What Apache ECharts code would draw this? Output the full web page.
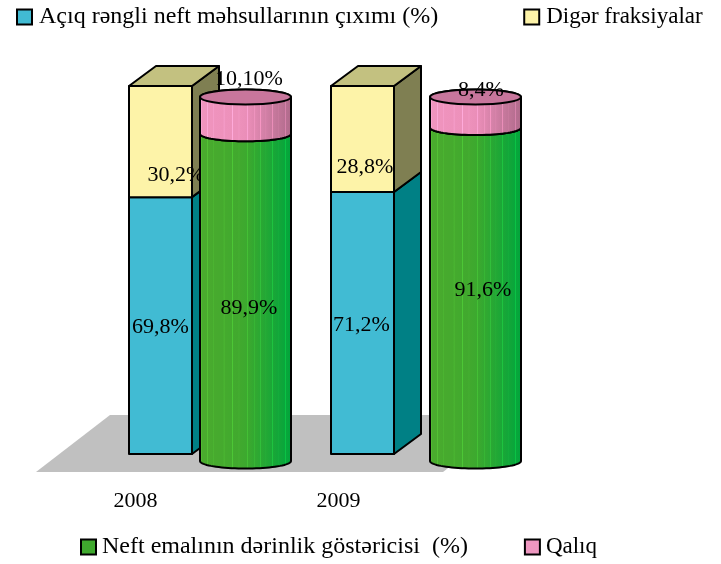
<!DOCTYPE html>
<html><head><meta charset="utf-8">
<style>html,body{margin:0;padding:0;background:#fff}#c{width:721px;height:564px}</style>
<script src="https://cdn.jsdelivr.net/npm/echarts@6/dist/echarts.min.js"></script>
</head><body><div id="c"></div>
<script>
const years = ['2008', '2009'];
const lightOutput = [69.8, 71.2];
const otherFractions = [30.2, 28.8];
const refiningDepth = [89.9, 91.6];
const residue = [10.1, 8.4];
const lightLabels = ['69,8%', '71,2%'];
const otherLabels = ['30,2%', '28,8%'];
const depthLabels = ['89,9%', '91,6%'];
const residueLabels = ['10,10%', '8,4%'];
const names = ['Açıq rəngli neft məhsullarının çıxımı (%)', 'Digər fraksiyalar', 'Neft emalının dərinlik göstəricisi  (%)', 'Qalıq'];

const FONT = '"Liberation Serif","Times New Roman",serif';
const DX = 27, DY = -20, BOX_W = 63, CYL_W = 91, RY = 7.5;
const streaks = [.03,.09,.16,.26,.27,.36,.43,.52,.6,.66,.72,.79,.85,.93];

function cylFill(cols) {
  const stops = [];
  const at = t => echarts.color.lerp(t, cols);
  stops.push({offset: 0, color: at(0)});
  streaks.forEach(p => {
    stops.push({offset: p - .006, color: at(p)});
    stops.push({offset: p, color: echarts.color.lift(at(p), -0.18)});
    stops.push({offset: p + .006, color: at(p)});
  });
  stops.push({offset: 1, color: at(1)});
  return new echarts.graphic.LinearGradient(0, 0, 1, 0, stops);
}
function seg(style) { return Object.assign({stroke: '#000', lineWidth: 2, lineJoin: 'round'}, style); }

function boxRender(front, side, nudges, labels, withTop, topFill) {
  return (params, api) => {
    const i = api.value(0);
    const a = api.coord([i, api.value(1)]);
    const b = api.coord([i, api.value(2)]);
    const l = a[0] - BOX_W / 2, r = a[0] + BOX_W / 2;
    const children = [
      {type: 'polygon', shape: {points: [[l, a[1]], [r, a[1]], [r, b[1]], [l, b[1]]]}, style: seg({fill: front})},
      {type: 'polygon', shape: {points: [[r, a[1]], [r + DX, a[1] + DY], [r + DX, b[1] + DY], [r, b[1]]]}, style: seg({fill: side})}
    ];
    if (withTop) children.push({type: 'polygon', shape: {points: [[l, b[1]], [r, b[1]], [r + DX, b[1] + DY], [l + DX, b[1] + DY]]}, style: seg({fill: topFill})});
    children.push({type: 'text', style: {text: labels[i], x: a[0] + nudges[i][0], y: (a[1] + b[1]) / 2 + nudges[i][1], font: '22px ' + FONT, fill: '#000', align: 'center', verticalAlign: 'middle'}, z2: 5});
    return {type: 'group', children};
  };
}

function arc(cx, cy, rx, ry, from, to) {
  const pts = [];
  for (let k = 0; k <= 40; k++) {
    const t = from + (to - from) * k / 40;
    pts.push([cx + rx * Math.cos(t), cy + ry * Math.sin(t)]);
  }
  return pts;
}
function cylRender(cols, nudges, labels, withTop, topFill) {
  return (params, api) => {
    const i = api.value(0);
    const a = api.coord([i, api.value(1)]);
    const b = api.coord([i, api.value(2)]);
    const cx = a[0], rx = CYL_W / 2;
    const pts = arc(cx, a[1], rx, RY, 0, Math.PI).concat(withTop ? arc(cx, b[1], rx, RY, Math.PI, 2 * Math.PI) : arc(cx, b[1], rx, RY, Math.PI, 0));
    const children = [{type: 'polygon', shape: {points: pts}, style: seg({fill: cylFill(cols)})}];
    if (withTop) children.push({type: 'ellipse', shape: {cx, cy: b[1], rx, ry: RY}, style: seg({fill: topFill})});
    children.push({type: 'text', style: {text: labels[i], x: cx + nudges[i][0], y: (a[1] + b[1]) / 2 + nudges[i][1], font: '22px ' + FONT, fill: '#000', align: 'center', verticalAlign: 'middle'}, z2: 5});
    return {type: 'group', children};
  };
}
function floorRender(params) {
  const c = params.coordSys, x0 = c.x + 2, w = 407, skew = 74, yb = c.y + c.height, yt = c.y;
  return {type: 'polygon', shape: {points: [[x0, yb], [x0 + w, yb], [x0 + w + skew, yt], [x0 + skew, yt]]}, style: {fill: '#C0C0C0'}};
}
function rows(base, vals) { return vals.map((v, i) => [i, base ? base[i] : 0, (base ? base[i] : 0) + v]); }
function legendItem(name, color, size, pad) { return {name, icon: 'rect', itemStyle: {color, borderColor: '#000', borderWidth: 2}, textStyle: {fontSize: size, padding: [0, 0, 0, pad]}}; }
const axisOff = {show: false};
const xOff = {type: 'category', data: years, show: false};
const yPct = {type: 'value', min: 0, max: 100, show: false};
const legendText = {fontFamily: FONT, fontSize: 24, color: '#000'};

const chart = echarts.init(document.getElementById('c'), null, {renderer: 'canvas'});
chart.setOption({
  animation: false,
  backgroundColor: '#fff',
  legend: [
    {left: 16, top: 5, padding: 0, itemGap: 85, itemWidth: 15, itemHeight: 15, textStyle: legendText, selectedMode: false,
      data: [legendItem(names[0], '#41BBD3', 24, 2), legendItem(names[1], '#FDF3A8', 23, 2)]},
    {left: 80, top: 535, padding: 0, itemGap: 56, itemWidth: 15, itemHeight: 15, textStyle: legendText, selectedMode: false,
      data: [legendItem(names[2], '#3FA92E', 24, 1), legendItem(names[3], '#EE97C0', 23, 1)]}
  ],
  grid: [
    {left: 59.5, width: 404, top: 86, height: 368},
    {left: 130.5, width: 460, top: 97, height: 364},
    {left: 34, width: 406, top: 415, height: 57}
  ],
  xAxis: [
    Object.assign({gridIndex: 0}, xOff),
    Object.assign({gridIndex: 1}, xOff),
    {gridIndex: 2, type: 'category', data: years, axisLine: axisOff, axisTick: axisOff,
      axisLabel: {margin: 18, fontFamily: FONT, fontSize: 22, color: '#000'}}
  ],
  yAxis: [
    Object.assign({gridIndex: 0}, yPct),
    Object.assign({gridIndex: 1}, yPct),
    {gridIndex: 2, type: 'value', min: 0, max: 1, show: false}
  ],
  series: [
    {type: 'custom', name: 'floor', xAxisIndex: 2, yAxisIndex: 2, z: 1, silent: true, renderItem: floorRender, data: [[0, 0]], encode: {x: 0, y: 1}},
    {type: 'custom', name: names[0], xAxisIndex: 0, yAxisIndex: 0, z: 2, itemStyle: {color: '#41BBD3'}, encode: {x: 0, y: [1, 2]},
      renderItem: boxRender('#41BBD3', '#008085', [[0, 2], [-1, 2]], lightLabels), data: rows(null, lightOutput)},
    {type: 'custom', name: names[1], xAxisIndex: 0, yAxisIndex: 0, z: 3, itemStyle: {color: '#FDF3A8'}, encode: {x: 0, y: [1, 2]},
      renderItem: boxRender('#FDF3A8', '#7F7F52', [[15.5, 34], [2.5, 28]], otherLabels, true, '#C3C180'), data: rows(lightOutput, otherFractions)},
    {type: 'custom', name: names[2], xAxisIndex: 1, yAxisIndex: 1, z: 4, itemStyle: {color: '#3FA92E'}, encode: {x: 0, y: [1, 2]},
      renderItem: cylRender(['#4BAB2E', '#3FA92E', '#00A53D'], [[3.5, 11], [7.5, -4]], depthLabels), data: rows(null, refiningDepth)},
    {type: 'custom', name: names[3], xAxisIndex: 1, yAxisIndex: 1, z: 5, itemStyle: {color: '#EE97C0'}, encode: {x: 0, y: [1, 2]},
      renderItem: cylRender(['#F095BE', '#EC90BA', '#AE6A8A'], [[3.5, -36], [5.5, -22]], residueLabels, true, '#C8769C'), data: rows(refiningDepth, residue)}
  ]
});
</script></body></html>
